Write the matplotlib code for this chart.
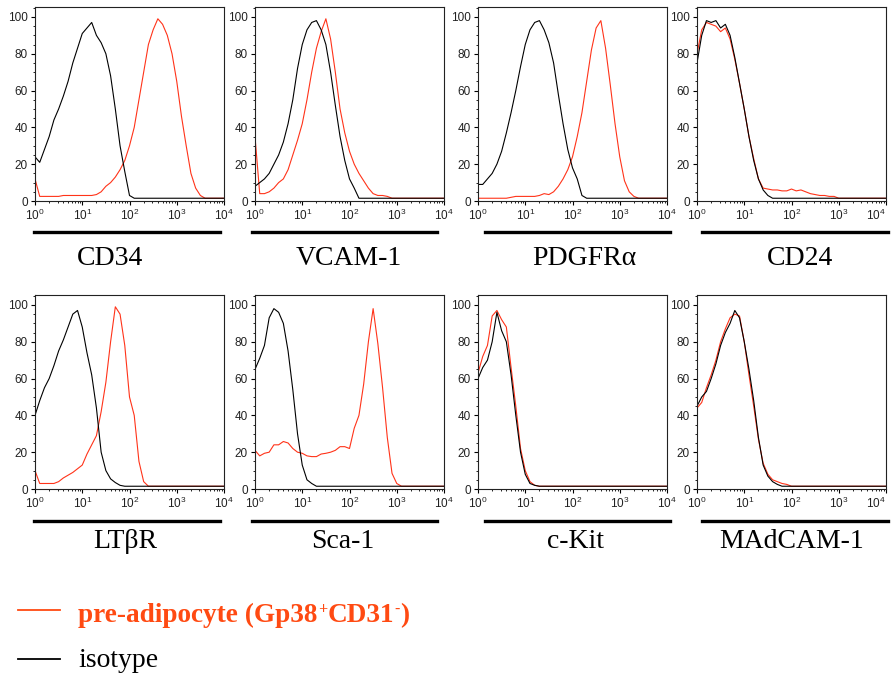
import numpy as np
import matplotlib
matplotlib.use("Agg")
import matplotlib.pyplot as plt
from matplotlib.lines import Line2D
from matplotlib.ticker import FixedLocator, MultipleLocator, LogLocator, NullFormatter

# Histogram channels, log10 decades 0.0 .. 4.0 in 0.1 steps
decades = np.round(np.arange(0, 4.01, 0.1), 1)

markers = ["CD34", "VCAM-1", "PDGFR\u03b1", "CD24",
           "LT\u03b2R", "Sca-1", "c-Kit", "MAdCAM-1"]

# % of max, pre-adipocyte (Gp38+CD31-) stained
pre_cd34 = [12, 2.5, 2.5, 2.5, 2.5, 2.5, 3, 3, 3, 3, 3, 3, 3, 3.5, 5, 8, 10, 13, 17, 22,
            30, 40, 55, 70, 85, 93, 99, 96, 90, 80, 65, 46, 30, 15, 7, 3, 1.5, 1.5, 1.5, 1.5, 1.5]
pre_vcam1 = [35, 4, 4, 5, 7, 10, 12, 17, 25, 33, 42, 55, 70, 83, 92, 99, 88, 70, 50, 37,
             27, 20, 15, 11, 7, 4, 3, 3, 2.5, 1.5, 1.5, 1.5, 1.5, 1.5, 1.5, 1.5, 1.5, 1.5, 1.5, 1.5, 1.5]
pre_pdgfra = [1.5, 1.5, 1.5, 1.5, 1.5, 1.5, 1.5, 2, 2.5, 2.5, 2.5, 2.5, 2.5, 3, 4, 3.5, 5, 8, 12, 17,
              24, 35, 48, 65, 82, 94, 98, 83, 63, 42, 24, 11, 5, 2.5, 1.5, 1.5, 1.5, 1.5, 1.5, 1.5, 1.5]
pre_cd24 = [80, 93, 97, 96, 95, 92, 94, 88, 77, 64, 50, 35, 23, 12, 7, 6.5, 6, 6, 5.5, 5.5,
            6.5, 5.5, 6, 5, 4, 3.5, 3, 3, 2.5, 2.5, 1.5, 1.5, 1.5, 1.5, 1.5, 1.5, 1.5, 1.5, 1.5, 1.5, 1.5]
pre_ltbr = [10, 3, 3, 3, 3, 4, 6, 7.5, 9, 11, 13, 19, 24, 29, 42, 58, 80, 99, 95, 78,
            50, 40, 15, 4, 1.5, 1.5, 1.5, 1.5, 1.5, 1.5, 1.5, 1.5, 1.5, 1.5, 1.5, 1.5, 1.5, 1.5, 1.5, 1.5, 1.5]
pre_sca1 = [21, 18, 19.4, 20, 24, 24, 25.8, 25, 22, 20, 19.4, 18, 17.6, 17.6, 19, 19.4, 20, 21, 23, 23,
            22, 33, 40, 57, 80, 98, 79, 55, 28, 8.5, 3, 1.5, 1.5, 1.5, 1.5, 1.5, 1.5, 1.5, 1.5, 1.5, 1.5]
pre_ckit = [63, 72, 78, 94, 97, 92, 88, 66, 45, 22, 10, 4, 2, 1.5, 1.5, 1.5, 1.5, 1.5, 1.5, 1.5,
            1.5, 1.5, 1.5, 1.5, 1.5, 1.5, 1.5, 1.5, 1.5, 1.5, 1.5, 1.5, 1.5, 1.5, 1.5, 1.5, 1.5, 1.5, 1.5, 1.5, 1.5]
pre_madcam1 = [44, 47, 55, 62, 70, 80, 87, 93, 95, 94, 80, 62, 45, 27, 14, 8, 5, 4, 3, 2.5,
               1.5, 1.5, 1.5, 1.5, 1.5, 1.5, 1.5, 1.5, 1.5, 1.5, 1.5, 1.5, 1.5, 1.5, 1.5, 1.5, 1.5, 1.5, 1.5, 1.5, 1.5]

# % of max, isotype control
iso_cd34 = [24, 21, 28, 35, 44, 50, 57, 65, 75, 83, 91, 94, 97, 90, 86, 80, 68, 50, 30, 16,
            3, 1.5, 1.5, 1.5, 1.5, 1.5, 1.5, 1.5, 1.5, 1.5, 1.5, 1.5, 1.5, 1.5, 1.5, 1.5, 1.5, 1.5, 1.5, 1.5, 1.5]
iso_vcam1 = [8, 10, 12, 15, 20, 25, 32, 42, 55, 72, 85, 93, 97, 98, 93, 85, 70, 52, 35, 22,
             12, 7, 1.5, 1.5, 1.5, 1.5, 1.5, 1.5, 1.5, 1.5, 1.5, 1.5, 1.5, 1.5, 1.5, 1.5, 1.5, 1.5, 1.5, 1.5, 1.5]
iso_pdgfra = [9, 9, 12, 15, 20, 27, 37, 48, 60, 73, 85, 93, 97, 98, 93, 86, 75, 58, 42, 28,
              18, 12, 3, 1.5, 1.5, 1.5, 1.5, 1.5, 1.5, 1.5, 1.5, 1.5, 1.5, 1.5, 1.5, 1.5, 1.5, 1.5, 1.5, 1.5, 1.5]
iso_cd24 = [75, 90, 98, 97, 98, 94, 96, 90, 78, 64, 50, 35, 22, 12, 6, 3, 1.5, 1.5, 1.5, 1.5,
            1.5, 1.5, 1.5, 1.5, 1.5, 1.5, 1.5, 1.5, 1.5, 1.5, 1.5, 1.5, 1.5, 1.5, 1.5, 1.5, 1.5, 1.5, 1.5, 1.5, 1.5]
iso_ltbr = [40, 48, 55, 60, 67, 75, 81, 88, 95, 97, 88, 74, 62, 44, 20, 10, 5.5, 3.5, 2, 1.5,
            1.5, 1.5, 1.5, 1.5, 1.5, 1.5, 1.5, 1.5, 1.5, 1.5, 1.5, 1.5, 1.5, 1.5, 1.5, 1.5, 1.5, 1.5, 1.5, 1.5, 1.5]
iso_sca1 = [65, 71, 78, 93, 98, 96, 90, 75, 54, 30, 13, 5, 3, 1.5, 1.5, 1.5, 1.5, 1.5, 1.5, 1.5,
            1.5, 1.5, 1.5, 1.5, 1.5, 1.5, 1.5, 1.5, 1.5, 1.5, 1.5, 1.5, 1.5, 1.5, 1.5, 1.5, 1.5, 1.5, 1.5, 1.5, 1.5]
iso_ckit = [60, 66, 70, 80, 96, 86, 80, 62, 40, 20, 8, 3, 2, 1.5, 1.5, 1.5, 1.5, 1.5, 1.5, 1.5,
            1.5, 1.5, 1.5, 1.5, 1.5, 1.5, 1.5, 1.5, 1.5, 1.5, 1.5, 1.5, 1.5, 1.5, 1.5, 1.5, 1.5, 1.5, 1.5, 1.5, 1.5]
iso_madcam1 = [45, 50, 53, 60, 68, 78, 85, 90, 97, 93, 80, 65, 48, 28, 13, 7, 4, 2.5, 1.5, 1.5,
               1.5, 1.5, 1.5, 1.5, 1.5, 1.5, 1.5, 1.5, 1.5, 1.5, 1.5, 1.5, 1.5, 1.5, 1.5, 1.5, 1.5, 1.5, 1.5, 1.5, 1.5]

pre = [pre_cd34, pre_vcam1, pre_pdgfra, pre_cd24, pre_ltbr, pre_sca1, pre_ckit, pre_madcam1]
iso = [iso_cd34, iso_vcam1, iso_pdgfra, iso_cd24, iso_ltbr, iso_sca1, iso_ckit, iso_madcam1]

red = "#ff3319"
W, H = 892, 676
fig = plt.figure(figsize=(W / 100, H / 100), dpi=100)

# pixel layout
col_left = [35, 255, 478, 697]
ax_w, ax_h = 189, 194
row_top = [7, 295]
bar_x = [(34, 220), (252, 437), (485, 670), (702, 888)]
bar_y = [232, 521]
label_x = [110, 349, 584, 800, 125, 343, 576, 792]
label_base = [265, 548]

serif = "Liberation Serif"
sans = "Liberation Sans"

x = 10 ** decades
for i in range(8):
    r, c = divmod(i, 4)
    left, top = col_left[c], row_top[r]
    ax = fig.add_axes([left / W, 1 - (top + ax_h) / H, ax_w / W, ax_h / H])
    ax.plot(x, pre[i], color=red, lw=0.8)
    ax.plot(x, iso[i], color="black", lw=0.8)
    ax.set_xscale("log")
    ax.set_xlim(1, 1e4)
    ax.set_ylim(0, 105.4)
    ax.xaxis.set_major_locator(FixedLocator([1, 10, 100, 1000, 10000]))
    ax.xaxis.set_minor_locator(LogLocator(base=10, subs=np.arange(2, 10)))
    ax.xaxis.set_minor_formatter(NullFormatter())
    ax.set_xticklabels([r"$\mathregular{10^{%d}}$" % k for k in range(5)])
    ax.yaxis.set_major_locator(MultipleLocator(20))
    ax.yaxis.set_minor_locator(MultipleLocator(5))
    ax.tick_params(which="major", direction="out", length=3, width=0.8,
                   labelsize=8.5, labelcolor="#222222", pad=2)
    ax.tick_params(which="minor", direction="out", length=1.6, width=0.6)
    for lab in ax.get_xticklabels() + ax.get_yticklabels():
        lab.set_fontfamily(sans)
    if c == 3:
        # keep the last decade label inside the figure edge
        ax.get_xticklabels()[-1].set_horizontalalignment("right")
    for sp in ax.spines.values():
        sp.set_linewidth(0.8)
        sp.set_color("#222222")

    x0, x1 = bar_x[c]
    yb = 1 - bar_y[r] / H
    fig.add_artist(Line2D([x0 / W, x1 / W], [yb, yb], color="black", lw=2.4))
    fig.text(label_x[i] / W, 1 - label_base[r] / H, markers[i], ha="center",
             va="baseline", fontsize=20, family=serif)

# legend
leg_red = "#ff4a12"
fig.add_artist(Line2D([18 / W, 60 / W], [1 - 610 / H] * 2, color=leg_red, lw=1.3))
fig.add_artist(Line2D([18 / W, 60 / W], [1 - 659 / H] * 2, color="black", lw=1.3))
fig.text(78 / W, 1 - 667 / H, "isotype", fontsize=20, family=serif, va="baseline")

renderer = fig.canvas.get_renderer()
pieces = [("pre-adipocyte (Gp38", 19.6, 0), ("+", 11.5, 8), ("CD31", 19.6, 0),
          ("-", 11.5, 8), (")", 19.6, 0)]
xp = 78
for s, size, rise in pieces:
    t = fig.text(xp / W, 1 - (622 - rise) / H, s, fontsize=size, family=serif,
                 weight="bold", color=leg_red, va="baseline")
    xp += t.get_window_extent(renderer).width + 0.3

fig.savefig("out.png", dpi=100)
